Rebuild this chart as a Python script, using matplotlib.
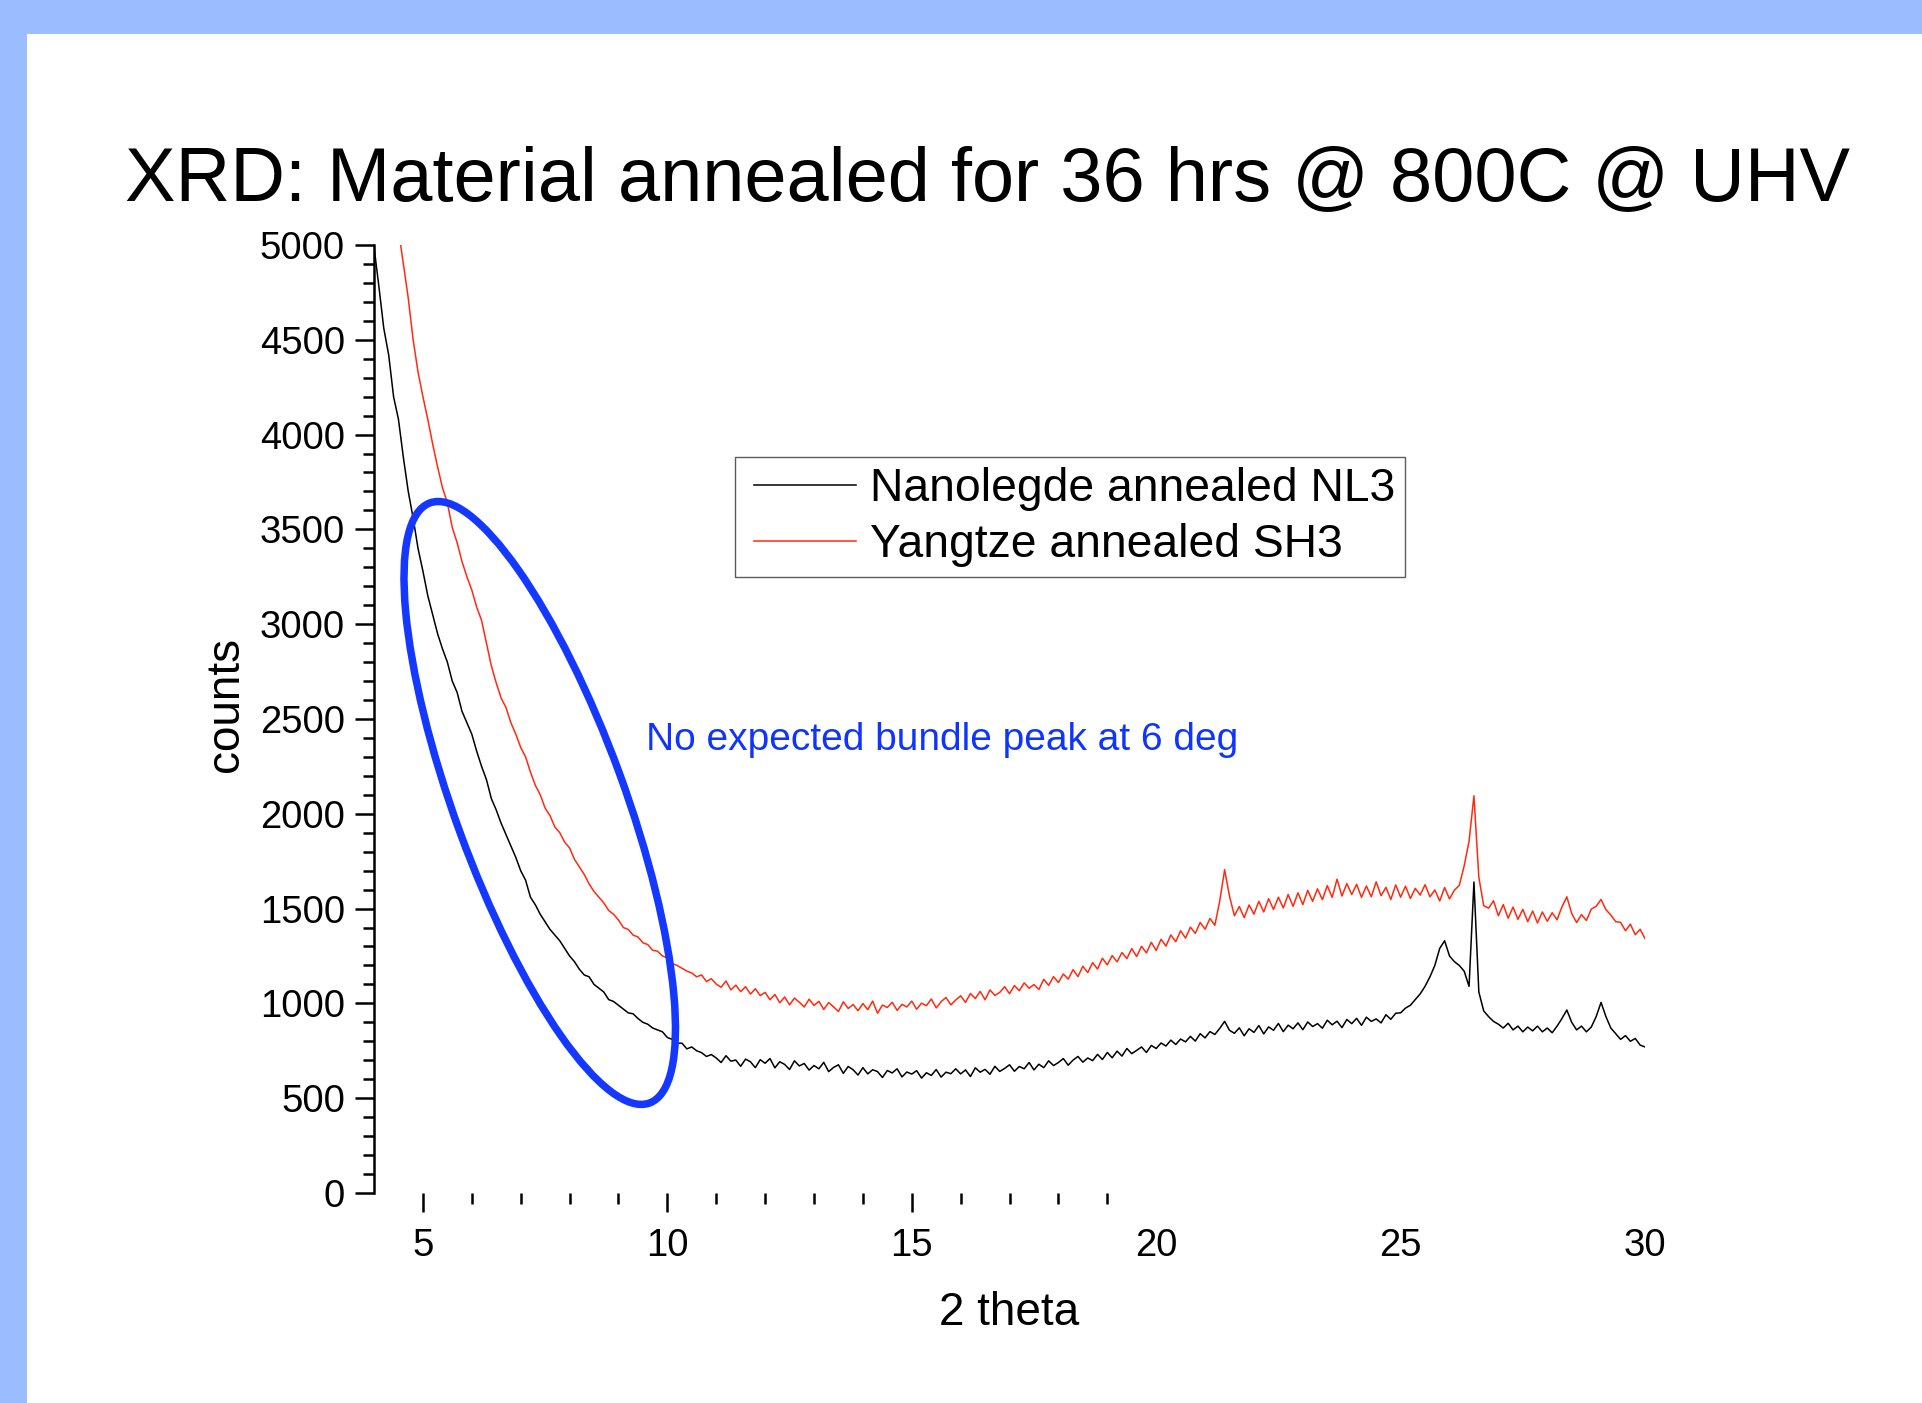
import numpy as np
import matplotlib
matplotlib.use("Agg")
import matplotlib.pyplot as plt
from matplotlib.patches import Ellipse, Rectangle
from matplotlib.legend_handler import HandlerLine2D
from matplotlib.lines import Line2D
from matplotlib.ticker import FixedLocator
import matplotlib.transforms as mtransforms

plt.rcParams['font.family'] = ['Liberation Sans', 'DejaVu Sans']

# XRD scans, one value every 0.1 deg (2 theta)
nl3_start = 4.0
nl3_counts = [
    4990, 4780, 4560, 4420, 4200, 4080, 3880, 3700, 3560, 3400,
    3280, 3150, 3050, 2950, 2870, 2800, 2700, 2640, 2540, 2480,
    2420, 2330, 2250, 2180, 2080, 2020, 1950, 1890, 1830, 1770,
    1700, 1650, 1560, 1520, 1470, 1430, 1390, 1360, 1330, 1290,
    1250, 1220, 1180, 1150, 1140, 1100, 1080, 1060, 1020, 1010,
    990, 970, 950, 945, 920, 900, 890, 870, 860, 850,
    820, 810, 790, 790, 760, 770, 750, 740, 720, 730,
    712, 688, 724, 695, 701, 668, 706, 692, 661, 703,
    684, 709, 660, 692, 678, 651, 697, 670, 683, 648,
    672, 655, 689, 640, 662, 676, 631, 667, 650, 622,
    661, 628, 650, 640, 609, 646, 633, 655, 612, 638,
    627, 645, 606, 634, 620, 651, 611, 637, 629, 655,
    628, 649, 614, 660, 637, 652, 626, 668, 641, 657,
    676, 642, 667, 655, 688, 649, 679, 661, 697, 672,
    688, 709, 674, 701, 720, 690, 712, 698, 731, 704,
    741, 713, 748, 722, 762, 735, 752, 770, 741, 778,
    762, 791, 775, 806, 783, 812, 797, 826, 801, 840,
    818, 851, 836, 868, 905, 858, 842, 871, 829, 866,
    847, 883, 839, 876, 858, 894, 851, 885, 866, 897,
    861, 902, 878, 893, 869, 911, 887, 906, 872, 915,
    893, 921, 884, 927, 905, 918, 897, 940, 916, 948,
    950, 975, 990, 1020, 1050, 1090, 1140, 1200, 1290, 1330,
    1250, 1220, 1200, 1170, 1090, 1640, 1060, 960, 930, 905,
    890, 870, 895, 860, 880, 850, 875, 855, 880, 850,
    870, 845, 880, 920, 965, 900, 860, 880, 850, 875,
    930, 1005, 930, 870, 840, 810, 830, 800, 815, 780,
    770,
]

sh3_start = 4.5
sh3_counts = [
    5080, 4900, 4720, 4500, 4330,
    4200, 4080, 3950, 3830, 3720, 3640, 3510, 3430, 3330, 3250,
    3180, 3090, 3020, 2900, 2780, 2690, 2610, 2560, 2480, 2420,
    2350, 2300, 2220, 2150, 2100, 2030, 1990, 1930, 1900, 1850,
    1820, 1760, 1720, 1680, 1630, 1590, 1560, 1530, 1490, 1470,
    1440, 1400, 1390, 1360, 1350, 1320, 1310, 1280, 1275, 1250,
    1240, 1210, 1200, 1185, 1170, 1160, 1140, 1150, 1115, 1130,
    1102, 1085, 1118, 1071, 1096, 1062, 1088, 1049, 1077, 1041,
    1058, 1019, 1047, 1003, 1034, 992, 1028, 1006, 981, 1022,
    989, 1011, 968, 1004, 982, 957, 1008, 973, 994, 961,
    999, 967, 1012, 948, 991, 978, 1006, 963, 995, 981,
    1012, 969, 1001, 988, 1023, 976, 1009, 1031, 992, 1018,
    1040, 1005, 1052, 1026, 1063, 1019, 1071, 1042, 1058, 1088,
    1051, 1094, 1067, 1108, 1080, 1099, 1073, 1127, 1095, 1141,
    1110, 1155, 1128, 1178, 1141, 1196, 1162, 1215, 1181, 1238,
    1203, 1252, 1219, 1268, 1236, 1289, 1247, 1301, 1266, 1322,
    1279, 1338, 1302, 1361, 1325, 1383, 1344, 1402, 1369, 1427,
    1391, 1448, 1412, 1540, 1705, 1565, 1462, 1511, 1452, 1519,
    1471, 1538, 1482, 1552, 1495, 1560, 1503, 1574, 1512, 1583,
    1521, 1596, 1538, 1604, 1547, 1621, 1559, 1655, 1566, 1632,
    1574, 1628, 1559, 1619, 1562, 1641, 1568, 1612, 1548, 1625,
    1560, 1618, 1553, 1607, 1571, 1626, 1562, 1598, 1540, 1611,
    1551, 1597, 1622, 1725, 1855, 2095, 1665, 1515, 1502, 1541,
    1462, 1521, 1449, 1508, 1443, 1496, 1431, 1487, 1424, 1482,
    1433, 1478, 1441, 1509, 1562, 1474, 1426, 1468, 1437, 1497,
    1512, 1548, 1494, 1466, 1431, 1427, 1383, 1418, 1362, 1391,
    1341,
]

series_labels = ["Nanolegde annealed NL3", "Yangtze annealed SH3"]
x_major = [5, 10, 15, 20, 25, 30]
x_minor = [6, 7, 8, 9, 11, 12, 13, 14, 16, 17, 18, 19]

nl3_x = nl3_start + 0.1 * np.arange(len(nl3_counts))
sh3_x = sh3_start + 0.1 * np.arange(len(sh3_counts))

fig = plt.figure(figsize=(19.22, 14.03), dpi=100)
fig.patch.set_facecolor("white")

# slide frame (blue bands top and left)
fig.add_artist(Rectangle((0, 1 - 34 / 1403), 1, 34 / 1403, transform=fig.transFigure,
                         facecolor="#9bbcff", edgecolor="none"))
fig.add_artist(Rectangle((0, 0), 27 / 1922, 1, transform=fig.transFigure,
                         facecolor="#9bbcff", edgecolor="none"))

fig.text(987 / 1922, 1 - 181 / 1403, "XRD: Material annealed for 36 hrs @ 800C @ UHV",
         ha="center", va="center", fontsize=54.5)

ax = fig.add_axes([0.1946, 0.1497, 0.6613, 0.6757])
ax.plot(nl3_x, nl3_counts, color="black", lw=1.1, label=series_labels[0])
ax.plot(sh3_x, sh3_counts, color="#ff2a10", lw=1.1, label=series_labels[1])

ax.set_xlim(4, 30)
ax.set_ylim(0, 5000)

for s in ["top", "right", "bottom"]:
    ax.spines[s].set_visible(False)
ax.spines["left"].set_linewidth(1.8)

ax.set_yticks(np.arange(0, 5001, 500))
ax.yaxis.set_minor_locator(FixedLocator(np.arange(0, 5001, 100)))
ax.set_xticks(x_major)
ax.xaxis.set_minor_locator(FixedLocator(x_minor))
ax.tick_params(axis="both", which="major", direction="out", length=14, width=1.8,
               labelsize=27.5)
ax.tick_params(axis="both", which="minor", direction="out", length=8, width=1.8)
ax.tick_params(axis="y", pad=7)
ax.tick_params(axis="x", pad=11)
for tick, loc in zip(ax.xaxis.get_major_ticks(), x_major):
    if loc >= 20:
        tick.tick1line.set_visible(False)

ax.set_xlabel("2 theta", fontsize=33, labelpad=20)
ax.set_ylabel("counts", fontsize=33)
ax.yaxis.set_label_coords(-0.099, 0.515)

leg = ax.legend(loc="upper left", bbox_to_anchor=(735 / 1922, 1 - 457 / 1403),
                bbox_transform=fig.transFigure, borderaxespad=0, fontsize=33.3,
                fancybox=False, frameon=True, handlelength=2.39, handletextpad=0.3,
                borderpad=0.22, labelspacing=0.26,
                handler_map={Line2D: HandlerLine2D(xpad=0.19)})
leg.get_frame().set_edgecolor("#333333")
leg.get_frame().set_linewidth(1.0)

ax.text(9.57, 2389, "No expected bundle peak at 6 deg", color="#1034ff",
        fontsize=28, ha="left", va="center")

# hand-drawn style ellipse around the low-angle region
cx, cy = ax.transData.transform((7.39, 2057))
fig.add_artist(Ellipse((cx, cy), width=639, height=170, angle=-69.9,
                       transform=mtransforms.IdentityTransform(),
                       fill=False, edgecolor="#1438ff", lw=5.4))

fig.savefig("out.png", dpi=100)
